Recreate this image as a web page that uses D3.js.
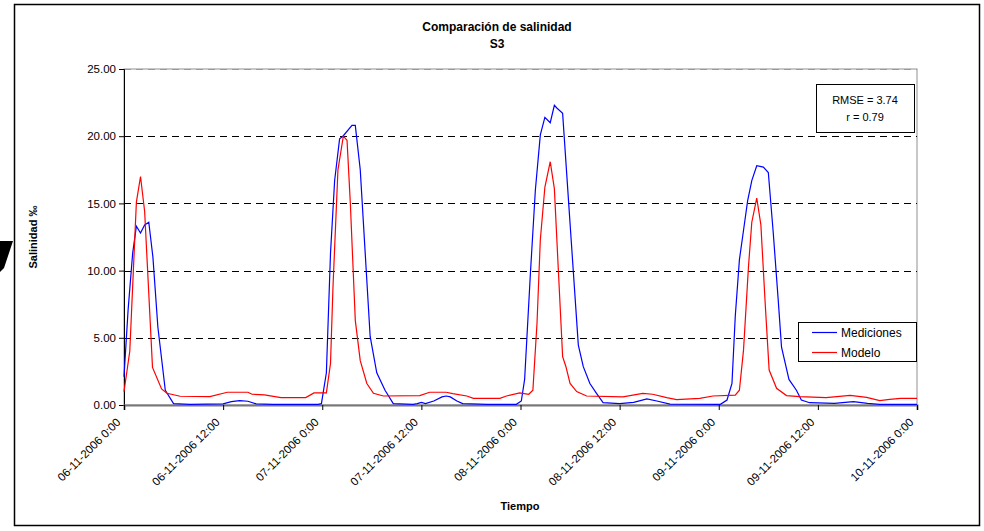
<!DOCTYPE html>
<html>
<head>
<meta charset="utf-8">
<script src="https://cdn.jsdelivr.net/npm/d3@7"></script>
<style>
  body { margin: 0; background: #fff; }
  svg { font-family: "Liberation Sans", Arial, sans-serif; }
</style>
</head>
<body>
<svg id="chart" width="984" height="531"></svg>
<script>
// horas desde 06-11-2006 0:00 y salinidad (‰)
const mediciones = [
  [0, 2.1], [0.5, 7.1], [1.05, 11.3], [1.5, 13.3], [2, 12.8], [2.5, 13.4], [3, 13.6], [3.5, 11.0],
  [4.1, 5.8], [5, 1.1], [6, 0.1], [8, 0.05], [12, 0.08], [13, 0.25], [14, 0.32], [15, 0.28],
  [16, 0.08], [18, 0.05], [23.5, 0.05], [23.9, 0.1], [24.5, 2.4], [25, 11.3], [25.5, 16.7],
  [26.1, 19.8], [26.5, 20.0], [27.6, 20.8], [28, 20.8], [28.6, 17.5], [29.2, 11.3], [29.8, 5.1],
  [30.6, 2.4], [31.6, 1.1], [32.6, 0.1], [35, 0.05], [35.5, 0.1], [36, 0.2], [36.5, 0.1],
  [37.5, 0.3], [38.5, 0.6], [39, 0.67], [39.5, 0.6], [40.3, 0.3], [41, 0.1], [44, 0.05],
  [47.5, 0.05], [48.1, 0.3], [48.5, 1.9], [49.2, 9.8], [49.8, 16], [50.4, 20.1], [50.95, 21.4],
  [51.6, 21.0], [52.1, 22.3], [52.4, 22.1], [53.1, 21.7], [54, 13.5], [55, 4.46], [55.6, 2.85],
  [56.4, 1.6], [57.2, 0.87], [58, 0.17], [60, 0.1], [61.7, 0.2], [63.3, 0.45], [64.5, 0.3],
  [66.1, 0.07], [72.2, 0.05], [73, 0.37], [73.6, 1.6], [74, 6.6], [74.5, 10.8], [75, 13.0],
  [75.5, 15.2], [76, 16.7], [76.6, 17.8], [77.4, 17.7], [78, 17.3], [78.6, 12.8], [79.2, 7.8],
  [79.6, 4.3], [80.5, 1.9], [81.4, 1.1], [82, 0.37], [83, 0.17], [86, 0.12], [88.3, 0.25],
  [90, 0.12], [91.5, 0.05], [96, 0.05]
];

const modelo = [
  [0, 1.0], [0.7, 4.0], [1.5, 15.1], [2, 17.0], [2.5, 14.4], [3.45, 2.8], [4.55, 1.2], [5.2, 0.87],
  [6.8, 0.65], [10.4, 0.62], [12.5, 0.95], [15, 0.95], [15.5, 0.8], [17, 0.75], [19, 0.55],
  [22, 0.55], [23, 0.9], [24.5, 0.9], [25, 3.1], [25.3, 8.8], [25.9, 17.5], [26.55, 20.0],
  [27, 19.7], [27.4, 15.0], [28, 6.3], [28.6, 3.3], [29.4, 1.6], [30.2, 0.87], [31.4, 0.67],
  [35.8, 0.7], [37, 0.95], [39, 0.95], [39.8, 0.85], [41.5, 0.67], [42.3, 0.5], [45.5, 0.5],
  [46.3, 0.67], [47.9, 0.9], [49, 0.8], [49.5, 1.1], [50, 6.1], [50.4, 12.3], [50.95, 16.2],
  [51.6, 18.1], [52.1, 16.1], [52.6, 9.8], [53.1, 3.6], [53.5, 2.85], [54, 1.6], [54.8, 1.0],
  [56, 0.67], [60.4, 0.6], [62.8, 0.87], [64, 0.8], [65.7, 0.55], [66.9, 0.4], [69.7, 0.5],
  [71.3, 0.67], [74, 0.74], [74.5, 1.1], [75, 4.1], [75.6, 10.3], [76, 13.6], [76.6, 15.4],
  [77.1, 13.4], [77.6, 7.8], [78.1, 2.6], [79, 1.24], [80.2, 0.7], [81.8, 0.62], [85, 0.55],
  [87.9, 0.72], [89.9, 0.57], [91.5, 0.32], [92.7, 0.42], [94, 0.5], [96, 0.5]
];

const horasTicks = [0, 12, 24, 36, 48, 60, 72, 84, 96];
const etiquetasX = [
  "06-11-2006 0:00", "06-11-2006 12:00", "07-11-2006 0:00", "07-11-2006 12:00",
  "08-11-2006 0:00", "08-11-2006 12:00", "09-11-2006 0:00", "09-11-2006 12:00", "10-11-2006 0:00"
];
const ticksY = [0, 5, 10, 15, 20, 25];
const series = [
  { nombre: "Mediciones", datos: mediciones, color: "#0000ff" },
  { nombre: "Modelo", datos: modelo, color: "#ff0000" }
];
const estadisticas = ["RMSE = 3.74", "r = 0.79"];

const svg = d3.select("#chart");
const margin = { top: 69, right: 67, bottom: 126, left: 124 };
const width = +svg.attr("width") - margin.left - margin.right;
const height = +svg.attr("height") - margin.top - margin.bottom;

// marco exterior
svg.append("rect")
  .attr("x", 14.5).attr("y", 4.5).attr("width", 965).attr("height", 521)
  .attr("fill", "none").attr("stroke", "#000").attr("stroke-width", 1.5);
svg.append("path")
  .attr("d", "M0,241L13,241L4,268L0,272Z")
  .attr("fill", "#000");

const g = svg.append("g").attr("transform", `translate(${margin.left},${margin.top})`);

const x = d3.scaleLinear().domain([0, 96]).range([0, width]);
const y = d3.scaleLinear().domain([0, 25]).range([height, 0]);

// borde del área de trazado
g.append("rect")
  .attr("x", 0).attr("y", 0).attr("width", width).attr("height", height)
  .attr("fill", "none").attr("stroke", "#909090").attr("stroke-width", 1);

// líneas de cuadrícula discontinuas
g.selectAll(".grid")
  .data(ticksY.filter(d => d > 0))
  .enter().append("line")
  .attr("class", "grid")
  .attr("x1", 0).attr("x2", width)
  .attr("y1", d => Math.round(y(d)) + 0.5).attr("y2", d => Math.round(y(d)) + 0.5)
  .attr("stroke", d => d === 25 ? "#999" : "#000")
  .attr("stroke-dasharray", "7,5");

// eje Y
g.append("g")
  .call(d3.axisLeft(y).tickValues(ticksY).tickSize(5).tickPadding(3).tickFormat(d3.format(".2f")))
  .call(a => {
    a.select(".domain").attr("stroke", "#000");
    a.selectAll(".tick text").attr("font-size", "11.5px").attr("fill", "#000")
      .attr("font-family", "Liberation Sans, Arial, sans-serif");
  });

// eje X
g.append("g")
  .attr("transform", `translate(0,${height})`)
  .call(d3.axisBottom(x).tickValues(horasTicks).tickSize(5).tickFormat((d, i) => etiquetasX[i]))
  .call(a => {
    a.select(".domain").attr("stroke", "#777").attr("stroke-width", 2);
    a.selectAll(".tick text")
      .attr("font-size", "11.5px").attr("fill", "#000")
      .attr("font-family", "Liberation Sans, Arial, sans-serif")
      .attr("text-anchor", "end")
      .attr("transform", "translate(-6,15) rotate(-45)")
      .attr("dy", "0.35em").attr("y", 0);
  });

// series
const line = d3.line().x(d => x(d[0])).y(d => y(d[1]));
g.selectAll(".serie")
  .data(series)
  .enter().append("path")
  .attr("class", "serie")
  .attr("fill", "none")
  .attr("stroke", d => d.color)
  .attr("stroke-width", 1.2)
  .attr("d", d => line(d.datos));

// títulos
svg.append("text").attr("x", 497).attr("y", 31).attr("text-anchor", "middle")
  .attr("font-size", "12px").attr("font-weight", "bold").text("Comparación de salinidad");
svg.append("text").attr("x", 497).attr("y", 48).attr("text-anchor", "middle")
  .attr("font-size", "12px").attr("font-weight", "bold").text("S3");
svg.append("text").attr("x", 520).attr("y", 510).attr("text-anchor", "middle")
  .attr("font-size", "11px").attr("font-weight", "bold").text("Tiempo");
svg.append("text")
  .attr("transform", "translate(37,237) rotate(-90)")
  .attr("text-anchor", "middle")
  .attr("font-size", "11px").attr("font-weight", "bold").text("Salinidad ‰");

// cuadro de estadísticas
const stats = svg.append("g").attr("transform", "translate(816,84)");
stats.append("rect").attr("x", 0.5).attr("y", 0.5).attr("width", 98).attr("height", 48)
  .attr("fill", "#fff").attr("stroke", "#000");
stats.selectAll("text").data(estadisticas).enter().append("text")
  .attr("x", 49).attr("y", (d, i) => 20 + i * 17)
  .attr("text-anchor", "middle").attr("font-size", "11px").text(d => d);

// leyenda
const leg = svg.append("g").attr("transform", "translate(798,322)");
leg.append("rect").attr("x", 0.5).attr("y", 0.5).attr("width", 118).attr("height", 39)
  .attr("fill", "#fff").attr("stroke", "#000");
const item = leg.selectAll(".item").data(series).enter().append("g")
  .attr("transform", (d, i) => `translate(0,${10 + i * 20})`);
item.append("line").attr("x1", 14).attr("x2", 39).attr("y1", 0.5).attr("y2", 0.5)
  .attr("stroke", d => d.color).attr("stroke-width", 1.2);
item.append("text").attr("x", 43).attr("y", 4.5).attr("font-size", "12px").text(d => d.nombre);
</script>
</body>
</html>
